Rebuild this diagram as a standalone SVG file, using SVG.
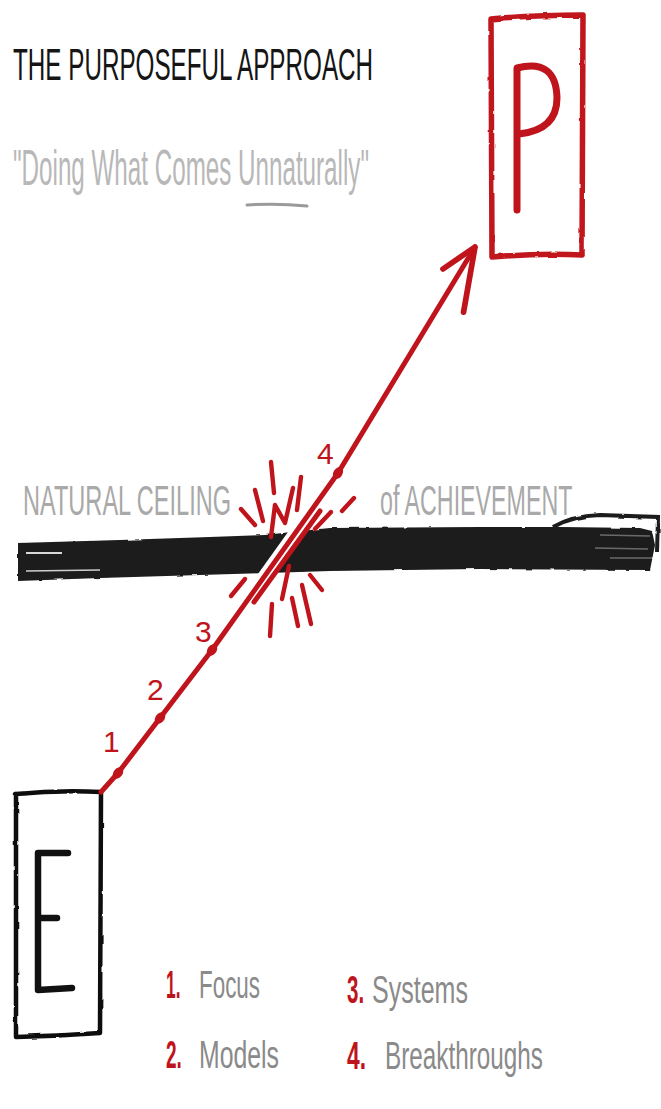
<svg xmlns="http://www.w3.org/2000/svg" width="661" height="1109" viewBox="0 0 661 1109">
  <style>
    .hand { font-family: "Liberation Sans", "DejaVu Sans", sans-serif; }
    .title { font-size: 44px; fill: #151515; }
    .sub { font-size: 50px; fill: #b8b8b8; }
    .ceil { font-size: 43px; fill: #a9a9a9; }
    .leg { font-size: 38px; fill: #8a8a8a; }
    .legnum { font-size: 38px; fill: #c0141c; font-weight: bold; }
    .num { font-size: 30px; fill: #c0141c; }
    .redline { fill: none; stroke: #c0141c; stroke-width: 5; stroke-linecap: round; stroke-linejoin: round; }
    .burst { fill: none; stroke: #c0141c; stroke-width: 4.4; stroke-linecap: round; stroke-linejoin: round; }
    .dot { fill: #c0141c; }
    .box-black { fill: none; stroke: #111; stroke-width: 4.5; stroke-linejoin: round; }
    .box-red { fill: none; stroke: #c0141c; stroke-width: 5.5; stroke-linejoin: round; }
  </style>
  <defs>
    <filter id="rough" x="-5%" y="-5%" width="110%" height="110%">
      <feTurbulence type="fractalNoise" baseFrequency="0.08" numOctaves="2" seed="3" result="n"/>
      <feDisplacementMap in="SourceGraphic" in2="n" scale="2.5" xChannelSelector="R" yChannelSelector="G"/>
    </filter>
    <marker id="arrow" markerUnits="userSpaceOnUse" orient="auto" markerWidth="80" markerHeight="80" refX="0" refY="0" viewBox="-60 -30 70 60" overflow="visible">
      <path d="M -31,-14 L 0,0 L -54,21" fill="none" stroke="#c0141c" stroke-width="5" stroke-linecap="round" stroke-linejoin="round"/>
    </marker>
  </defs>

  <rect x="0" y="0" width="661" height="1109" fill="#ffffff"/>

  <!-- Title -->
  <g id="title">
    <text class="hand title" transform="translate(13,80) scale(0.551,1)" x="0" y="0">THE PURPOSEFUL APPROACH</text>
  </g>

  <!-- Subtitle -->
  <g id="subtitle">
    <text class="hand sub" transform="translate(13,185) scale(0.484,1)" x="0" y="0">"Doing What Comes Unnaturally"</text>
    <path d="M247,205 Q277,203 307,206" fill="none" stroke="#9a9a9a" stroke-width="3" stroke-linecap="round"/>
  </g>

  <!-- Natural ceiling of achievement -->
  <g id="ceiling">
    <text class="hand ceil" transform="translate(23,515) scale(0.548,1)" x="0" y="0">NATURAL CEILING</text>
    <text class="hand ceil" transform="translate(380,515) scale(0.541,1)" x="0" y="0">of ACHIEVEMENT</text>
    <g filter="url(#rough)">
      <path d="M18,543 L120,540 L210,537 L265,535 L300,531 L330,528 L480,527 L560,527 L640,528 L652,531 L655,545 L652,560 L650,570 L480,569 L330,571 L200,575 L100,578 L18,581 Z" fill="#1b1b1b"/>
      <path d="M553,527 Q572,516 600,515 L658,517 L657,552" fill="none" stroke="#1b1b1b" stroke-width="4"/>
    </g>
    <path d="M26,553 L62,553" stroke="#d8d8d8" stroke-width="2" fill="none"/>
    <path d="M26,571 L100,570" stroke="#cfcfcf" stroke-width="1.6" fill="none"/>
    <path d="M600,535 L650,536 M595,548 L648,549 M610,558 L652,558" stroke="#6a6a6a" stroke-width="1.4" fill="none"/>
  </g>

  <!-- Node P -->
  <g id="node-P">
    <path class="box-red" filter="url(#rough)" d="M491,19 Q535,15 583,15 L582,255 Q540,253 492,257 Z"/>
    <path d="M517,210 L517,68 Q556,58 557,98 Q557,130 519,134" fill="none" stroke="#c0141c" stroke-width="7" stroke-linecap="round" stroke-linejoin="round"/>
  </g>

  <!-- Node E -->
  <g id="node-E">
    <path class="box-black" filter="url(#rough)" d="M16,794 Q58,790 101,792 L100,1033 Q58,1036 16,1037 Z"/>
    <path d="M68,853 L38,853 L38,990 L72,988 M38,918 L57,918" fill="none" stroke="#111" stroke-width="6.5" stroke-linecap="round" stroke-linejoin="round"/>
  </g>

  <!-- Connectors -->
  <g id="connectors">
    <path d="M240,612 L318,503" stroke="#ffffff" stroke-width="15" fill="none"/>
    <path class="redline" d="M101,792 L118,773 L160,718 L212,650 L338,473 L475,247" marker-end="url(#arrow)"/>
    <path class="redline" d="M254,602 L320,511"/>
  </g>

  <!-- Step markers -->
  <g id="steps">
    <ellipse class="dot" cx="118" cy="773" rx="4.5" ry="6.5" transform="rotate(38 118 773)"/>
    <ellipse class="dot" cx="160" cy="718" rx="4.5" ry="6.5" transform="rotate(38 160 718)"/>
    <ellipse class="dot" cx="212" cy="650" rx="4.5" ry="6.5" transform="rotate(36 212 650)"/>
    <ellipse class="dot" cx="338" cy="473" rx="4.5" ry="6.5" transform="rotate(32 338 473)"/>
    <text class="hand num" x="103" y="752">1</text>
    <text class="hand num" x="147" y="700">2</text>
    <text class="hand num" x="195" y="642">3</text>
    <text class="hand num" x="317" y="464">4</text>
  </g>

  <!-- Breakthrough burst -->
  <g id="burst">
    <path class="burst" d="M271,462 L274,493"/>
    <path class="burst" d="M255,490 L263,521"/>
    <path class="burst" d="M241,509 L255,525"/>
    <path class="burst" d="M271,537 L275,505 L285,523 L293,488"/>
    <path class="burst" d="M301,477 L297,510"/>
    <path class="burst" d="M354,498 L342,511"/>
    <path class="burst" d="M331,512 L315,529" stroke-width="6"/>
    <path class="burst" d="M245,579 L231,596"/>
    <path class="burst" d="M289,566 L282,599"/>
    <path class="burst" d="M272,604 L270,636"/>
    <path class="burst" d="M292,598 L298,626"/>
    <path class="burst" d="M302,585 L311,624"/>
    <path class="burst" d="M310,575 L322,590"/>
  </g>

  <!-- Legend -->
  <g id="legend">
    <text class="hand legnum" transform="translate(166,998) scale(0.46,1)" x="0" y="0">1.</text>
    <text class="hand leg" transform="translate(199,998) scale(0.59,1)" x="0" y="0">Focus</text>
    <text class="hand legnum" transform="translate(166,1068) scale(0.5,1)" x="0" y="0">2.</text>
    <text class="hand leg" transform="translate(199,1068) scale(0.653,1)" x="0" y="0">Models</text>
    <text class="hand legnum" transform="translate(347,1003) scale(0.54,1)" x="0" y="0">3.</text>
    <text class="hand leg" transform="translate(372,1003) scale(0.659,1)" x="0" y="0">Systems</text>
    <text class="hand legnum" transform="translate(347,1069) scale(0.6,1)" x="0" y="0">4.</text>
    <text class="hand leg" transform="translate(385,1069) scale(0.639,1)" x="0" y="0">Breakthroughs</text>
  </g>
</svg>
